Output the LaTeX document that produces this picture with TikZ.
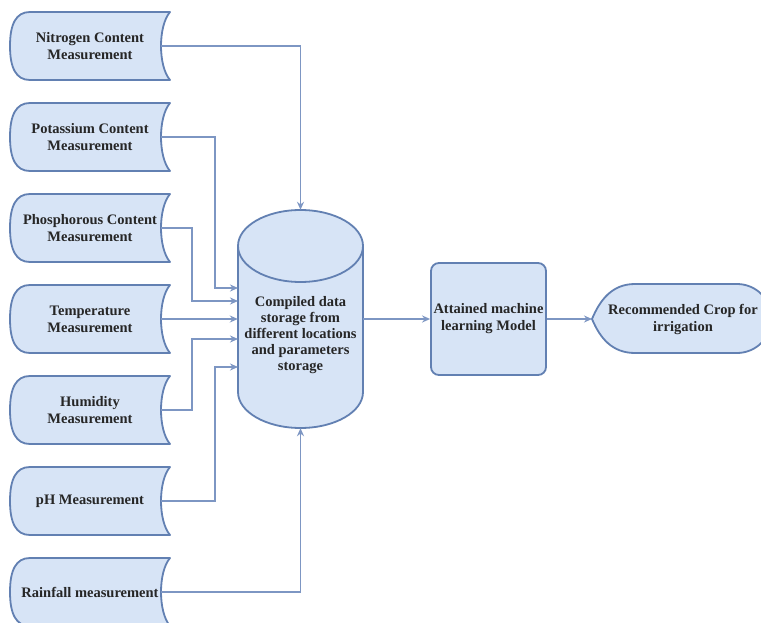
\documentclass[tikz,border=0pt]{standalone}
\usepackage{fontspec}
\setmainfont{Liberation Serif}
\newfontfamily\diagramfont{Liberation Serif}
\usetikzlibrary{arrows.meta}
\definecolor{boxfill}{RGB}{215,228,246}
\definecolor{boxline}{RGB}{98,128,178}
\definecolor{flowline}{RGB}{125,150,195}
\tikzset{
  shapeline/.style={draw=boxline, fill=boxfill, line width=1.8pt, line join=round},
  labeltext/.style={font=\diagramfont\bfseries\fontsize{14.5}{17}\selectfont, align=center, text=black!85, inner sep=0pt},
  flow/.style={draw=flowline, line width=1.5pt, -{Stealth[length=8pt,width=7pt]}},
}
% stored-data symbol: name, centre y, label
\newcommand\measurebox[3]{%
  \path[shapeline] (30,#2-34) -- (170,#2-34)
    .. controls (158,#2-20) and (158,#2+20) .. (170,#2+34) -- (30,#2+34)
    .. controls (16,#2+34) and (10,#2+22) .. (10,#2)
    .. controls (10,#2-22) and (16,#2-34) .. (30,#2-34) -- cycle;
  \node[labeltext] (#1) at (90,#2) {#3};
  \coordinate (#1o) at (160.5,#2);
}
\begin{document}
\begin{tikzpicture}[x=1pt,y=-1pt]
\useasboundingbox (0,0) rectangle (761,623);
\clip (0,0) rectangle (761,623);
\fill[white] (0,0) rectangle (761,623);

% input measurements
\measurebox{nit}{46}{Nitrogen Content\\Measurement}
\measurebox{pot}{137}{Potassium Content\\Measurement}
\measurebox{pho}{228}{Phosphorous Content\\Measurement}
\measurebox{tem}{319}{Temperature\\Measurement}
\measurebox{hum}{410}{Humidity\\Measurement}
\measurebox{ph}{501}{pH Measurement}
\measurebox{rai}{592}{Rainfall measurement}

% data store (cylinder)
\path[shapeline] (238,246) -- (238,392)
  arc[start angle=180,end angle=360,x radius=62.5pt,y radius=36pt]
  -- (363,246)
  arc[start angle=0,end angle=180,x radius=62.5pt,y radius=36pt] -- cycle;
\draw[draw=boxline, line width=1.8pt] (238,246)
  arc[start angle=180,end angle=360,x radius=62.5pt,y radius=36pt];
\node[minimum width=125pt, minimum height=218pt, inner sep=0pt] (db) at (300.5,319) {};
\node[labeltext, font=\diagramfont\bfseries\fontsize{14.5}{16.2}\selectfont] (dbtext) at (300.5,335)
  {Compiled data\\storage from\\different locations\\and parameters\\storage};

% model
\node[shapeline, rounded corners=8pt, minimum width=115pt, minimum height=112pt, labeltext]
  (model) at (488.5,319) {Attained machine\\learning Model};

% output (display symbol)
\path[shapeline] (592,319) .. controls (600,300) and (612,284) .. (635,284) -- (737,284)
  arc[start angle=90,end angle=-90,x radius=34.5pt,y radius=34.5pt]
  -- (635,353) .. controls (612,353) and (600,338) .. (592,319) -- cycle;
\node[labeltext] (rec) at (683,319) {Recommended Crop for\\irrigation};
\coordinate (rectip) at (592,319);

% entry points on the store
\coordinate (in2) at (238,288);
\coordinate (in3) at (238,301);
\coordinate (in5) at (238,339);
\coordinate (in6) at (238,367);

% connectors
\draw[flow] (nito) -| (db.north);
\draw[flow] (poto) -| ([xshift=-23pt]in2) -- (in2);
\draw[flow] (phoo) -| ([xshift=-46pt]in3) -- (in3);
\draw[flow] (temo) -- (db.west);
\draw[flow] (humo) -| ([xshift=-46pt]in5) -- (in5);
\draw[flow] (pho) -| ([xshift=-23pt]in6) -- (in6);
\draw[flow] (raio) -| (db.south);
\draw[flow] (db.east) -- (model.west);
\draw[flow] (model.east) -- (rectip);
\end{tikzpicture}
\end{document}
